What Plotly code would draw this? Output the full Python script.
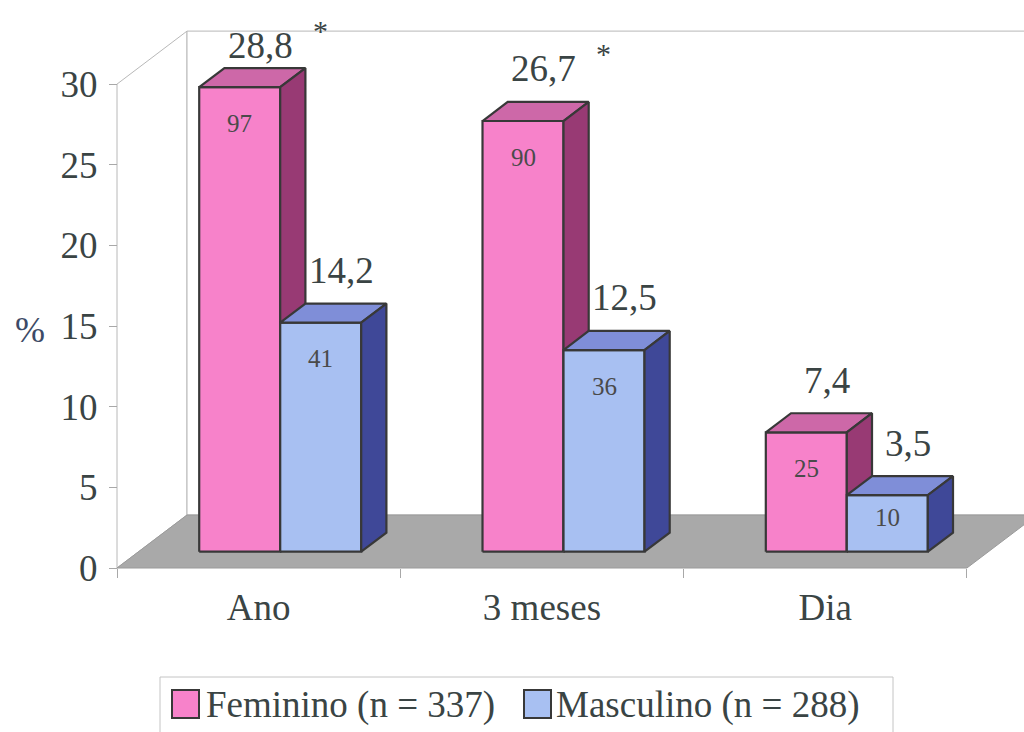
import plotly.graph_objects as go

# ---- data -------------------------------------------------------------
categories = ["Ano", "3 meses", "Dia"]
feminino = [28.8, 26.7, 7.4]          # %
masculino = [14.2, 12.5, 3.5]         # %
feminino_n = [97, 90, 25]             # counts shown inside bars
masculino_n = [41, 36, 10]
significant = [True, True, False]     # asterisk next to the female value
series_names = ["Feminino (n = 337)", "Masculino (n = 288)"]
y_ticks = [0, 5, 10, 15, 20, 25, 30]

# ---- look -------------------------------------------------------------
W, H = 1024, 732
PX_U = 283.3            # pixels per category slot
PX_V = 16.13            # pixels per percentage point
X0_PX, Y0_PX = 117, 568 # screen position of the front-left floor corner
DEPTH_U = 70 / PX_U     # oblique depth of the floor, x component
DEPTH_V = 53 / PX_V     # oblique depth of the floor, y component
FRONT_GAP = 0.308       # fraction of depth in front of the bars
BAR_DEPTH = 0.36        # fraction of depth taken by the bars
BAR_W = 81 / PX_U
WALL_TOP = 30

FONT = "Liberation Serif"
TEXT = "#3a4444"
EDGE = "#383838"
colors = [
    dict(front="#f782ca", top="#cd68a8", side="#983a74"),
    dict(front="#a8c0f2", top="#7f8ed8", side="#3f4898"),
]

fu, fv = FRONT_GAP * DEPTH_U, FRONT_GAP * DEPTH_V
bu, bv = BAR_DEPTH * DEPTH_U, BAR_DEPTH * DEPTH_V

fig = go.Figure()


def poly(xs, ys, fill, line=EDGE, width=2.2):
    fig.add_trace(go.Scatter(
        x=xs + [xs[0]], y=ys + [ys[0]], mode="lines", fill="toself",
        fillcolor=fill, line=dict(color=line, width=width),
        hoverinfo="skip", showlegend=False))


n_cat = len(categories)
# walls
poly([0, 0, DEPTH_U, DEPTH_U], [0, WALL_TOP, WALL_TOP + DEPTH_V, DEPTH_V],
     "white", "#b8b8b8", 1)
poly([DEPTH_U, DEPTH_U, n_cat + DEPTH_U, n_cat + DEPTH_U],
     [DEPTH_V, WALL_TOP + DEPTH_V, WALL_TOP + DEPTH_V, DEPTH_V],
     "white", "#b8b8b8", 1)
# floor
poly([0, n_cat, n_cat + DEPTH_U, DEPTH_U], [0, 0, DEPTH_V, DEPTH_V],
     "#a9a9a9", "#9a9a9a", 1)

# value labels are kept inside the plot box (below the top of the back wall)
label_ceiling = WALL_TOP + DEPTH_V - 14 / PX_V

annotations = []
series = [(feminino, feminino_n), (masculino, masculino_n)]
for i in range(n_cat):
    for s, (vals, counts) in enumerate(series):
        v = vals[i]
        c = colors[s]
        x0 = i + 0.5 - BAR_W + s * BAR_W + fu
        x1 = x0 + BAR_W
        b, t = fv, fv + v
        poly([x0, x1, x1, x0], [b, b, t, t], c["front"])
        poly([x0, x1, x1 + bu, x0 + bu], [t, t, t + bv, t + bv], c["top"])
        poly([x1, x1 + bu, x1 + bu, x1], [b, b + bv, t + bv, t], c["side"])

        # value above the bar
        lx = x0 + BAR_W / 2 + bu / 2 + 8 / PX_U
        ly = min(t + bv + 33 / PX_V, label_ceiling)
        annotations.append(dict(
            x=lx, y=ly, xref="x", yref="y", text=f"{v:.1f}".replace(".", ","),
            showarrow=False, font=dict(family=FONT, size=37, color=TEXT),
            xanchor="center", yanchor="middle"))
        if s == 0 and significant[i]:
            annotations.append(dict(
                x=lx + 60 / PX_U, y=ly + 15 / PX_V, xref="x", yref="y", text="*",
                showarrow=False, font=dict(family=FONT, size=30, color=TEXT),
                xanchor="center", yanchor="middle"))
        # count inside the front face
        drop = min(36, 0.4 * v * PX_V) / PX_V
        annotations.append(dict(
            x=x0 + BAR_W / 2, y=t - drop, xref="x", yref="y", text=str(counts[i]),
            showarrow=False, font=dict(family=FONT, size=25, color="#4a4a4a"),
            xanchor="center", yanchor="middle"))

# axis title
annotations.append(dict(
    x=30 / W, y=1 - 330 / H, xref="paper", yref="paper", text="%",
    showarrow=False, font=dict(family=FONT, size=36, color="#3c4a66"),
    xanchor="center", yanchor="middle"))

# legend
shapes = [dict(type="rect", xref="paper", yref="paper",
               x0=160 / W, x1=893 / W, y0=-0.05, y1=1 - 677 / H,
               line=dict(color="#c4c4c4", width=1), fillcolor="white")]
legend_items = [(172, 204), (524, 554)]
for (mx, tx), name, c in zip(legend_items, series_names, colors):
    shapes.append(dict(type="rect", xref="paper", yref="paper",
                       x0=mx / W, x1=(mx + 27) / W,
                       y0=1 - 718 / H, y1=1 - 690 / H,
                       line=dict(color=EDGE, width=2), fillcolor=c["front"]))
    annotations.append(dict(
        x=tx / W, y=1 - 705 / H, xref="paper", yref="paper", text=name,
        showarrow=False, font=dict(family=FONT, size=37, color=TEXT),
        xanchor="left", yanchor="middle"))

fig.update_layout(
    width=W, height=H, margin=dict(l=0, r=0, t=0, b=0),
    paper_bgcolor="white", plot_bgcolor="white", showlegend=False,
    annotations=annotations, shapes=shapes,
    xaxis=dict(
        range=[-X0_PX / PX_U, (W - X0_PX) / PX_U], anchor="free",
        position=1 - Y0_PX / H, showgrid=False, zeroline=False, showline=False,
        tickmode="array", tickvals=[i + 0.5 for i in range(n_cat)],
        ticktext=categories, ticks="", ticklabelstandoff=14,
        tickfont=dict(family=FONT, size=37, color=TEXT),
        minor=dict(tickmode="array", tickvals=list(range(n_cat + 1)),
                   ticks="outside", ticklen=9, tickcolor="#a8a8a8", tickwidth=1,
                   showgrid=False),
        fixedrange=True),
    yaxis=dict(
        range=[-(H - Y0_PX) / PX_V, Y0_PX / PX_V], anchor="free",
        position=X0_PX / W, showgrid=False, zeroline=False, showline=False,
        tickmode="array", tickvals=y_ticks, ticks="outside", ticklen=8,
        tickcolor="#a8a8a8", tickwidth=1, ticklabelstandoff=4,
        tickfont=dict(family=FONT, size=37, color=TEXT), fixedrange=True),
)

fig.write_html("out.html")
